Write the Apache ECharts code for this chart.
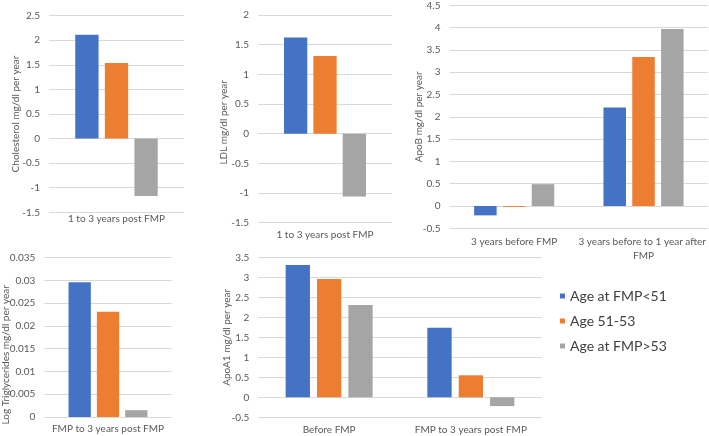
<!DOCTYPE html>
<html>
<head>
<meta charset="utf-8">
<script src="https://cdn.jsdelivr.net/npm/echarts@6/dist/echarts.min.js"></script>
<style>html,body{margin:0;padding:0;background:#fff}#c{width:709px;height:436px}</style>
</head>
<body>
<div id="c"></div>
<script>
// ---- data ----
const groups = ['Age at FMP<51', 'Age 51-53', 'Age at FMP>53'];
const colors = ['#4472C4', '#ED7D31', '#A5A5A5'];

const cholCategories = ['1 to 3 years post FMP'];
const cholLt51 = [2.11];
const cholMid = [1.54];
const cholGt53 = [-1.17];
const cholTicks = { min: -1.5, max: 2.5, step: 0.5 };

const ldlCategories = ['1 to 3 years post FMP'];
const ldlLt51 = [1.62];
const ldlMid = [1.31];
const ldlGt53 = [-1.06];
const ldlTicks = { min: -1.5, max: 2, step: 0.5 };

const apobCategories = ['3 years before FMP', '3 years before to 1 year after FMP'];
const apobLt51 = [-0.21, 2.21];
const apobMid = [-0.02, 3.34];
const apobGt53 = [0.49, 3.97];
const apobTicks = { min: -0.5, max: 4.5, step: 0.5 };

const tgCategories = ['FMP to 3 years post FMP'];
const tgLt51 = [0.0296];
const tgMid = [0.0231];
const tgGt53 = [0.0015];
const tgTicks = { min: 0, max: 0.035, step: 0.005 };

const apoaCategories = ['Before FMP', 'FMP to 3 years post FMP'];
const apoaLt51 = [3.31, 1.74];
const apoaMid = [2.96, 0.55];
const apoaGt53 = [2.31, -0.22];
const apoaTicks = { min: -0.5, max: 3.5, step: 0.5 };

// ---- layout ----
const FONT = 'Lato';
const TXT = '#595959';
const panels = [
  { cats: cholCategories, vals: [cholLt51, cholMid, cholGt53], ticks: cholTicks, name: 'Cholesterol mg/dl per year',
    grid: { left: 49, top: 15.7, width: 135, height: 196.6 }, bw: 23.3, gap: '27%', nameGap: 28, namePad: [0, 0, 0, 0], catMargin: -1 },
  { cats: ldlCategories, vals: [ldlLt51, ldlMid, ldlGt53], ticks: ldlTicks, name: 'LDL mg/dl per year',
    grid: { left: 258, top: 15, width: 134, height: 207.7 }, bw: 23.3, gap: '26%', nameGap: 29, namePad: [0, 7, 0, 0], catMargin: 5 },
  { cats: apobCategories, vals: [apobLt51, apobMid, apobGt53], ticks: apobTicks, name: 'ApoB mg/dl per year',
    grid: { left: 449.5, top: 5.3, width: 258.7, height: 223 }, bw: 22.5, gap: '28%', nameGap: 26, namePad: [0, 0, 0, 0], catMargin: 6 },
  { cats: tgCategories, vals: [tgLt51, tgMid, tgGt53], ticks: tgTicks, name: 'Log Triglycerides mg/dl per year',
    grid: { left: 44.3, top: 257.7, width: 127.4, height: 159.3 }, bw: 22.3, gap: '27%', nameGap: 34, namePad: [0, 35, 0, 0], catMargin: 5 },
  { cats: apoaCategories, vals: [apoaLt51, apoaMid, apoaGt53], ticks: apoaTicks, name: 'ApoA1 mg/dl per year',
    grid: { left: 258.3, top: 257.3, width: 283.4, height: 160 }, bw: 24.3, gap: '29%', nameGap: 27, namePad: [0, 0, 0, 0], catMargin: 5 }
];

const grid = [], xAxis = [], yAxis = [], series = [];
panels.forEach((p, i) => {
  grid.push(Object.assign({ containLabel: false, outerBoundsMode: 'none' }, p.grid));
  xAxis.push({
    type: 'category', gridIndex: i, data: p.cats,
    axisLine: { show: false }, axisTick: { show: false }, splitLine: { show: false },
    axisLabel: { interval: 0, color: TXT, fontFamily: FONT, fontSize: 10, margin: p.catMargin,
      width: 135, overflow: 'break', lineHeight: 14 }
  });
  yAxis.push({
    type: 'value', gridIndex: i, min: p.ticks.min, max: p.ticks.max, interval: p.ticks.step,
    name: p.name, nameLocation: 'middle', nameGap: p.nameGap, nameRotate: 90, nameMoveOverlap: false,
    nameTextStyle: { color: TXT, fontFamily: FONT, fontSize: 10, padding: p.namePad },
    axisLine: { show: false }, axisTick: { show: false },
    axisLabel: { color: TXT, fontFamily: FONT, fontSize: 10, margin: 9 },
    splitLine: { show: true, lineStyle: { color: '#D9D9D9', width: 1 } }
  });
  p.vals.forEach((v, k) => {
    series.push({
      type: 'bar', name: groups[k], xAxisIndex: i, yAxisIndex: i, data: v,
      barWidth: p.bw, barGap: p.gap,
      itemStyle: { color: colors[k] }, animation: false
    });
  });
});

const chart = echarts.init(document.getElementById('c'), null, { renderer: 'canvas' });
chart.setOption({
  backgroundColor: '#ffffff',
  animation: false,
  color: colors,
  legend: {
    data: groups, orient: 'vertical', left: 555, top: 284, itemGap: 11,
    itemWidth: 5, itemHeight: 5, icon: 'rect',
    textStyle: { color: '#404040', fontFamily: FONT, fontSize: 14 }
  },
  grid, xAxis, yAxis, series
});
</script>
</body>
</html>
